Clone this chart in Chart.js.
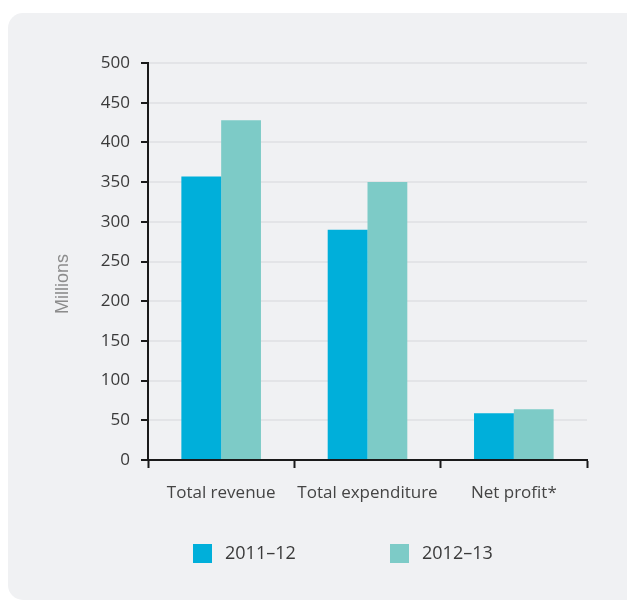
<!DOCTYPE html>
<html>
<head>
<meta charset="utf-8">
<script src="https://cdn.jsdelivr.net/npm/chart.js@4"></script>
<style>
  body { margin: 0; background: #fff; }
  #panel {
    position: absolute; left: 8px; top: 13px; width: 640px; height: 587px;
    background: #f0f1f3; border-radius: 15px;
  }
  #myChart { position: absolute; left: 0; top: 0; }
</style>
</head>
<body>
<div id="panel"></div>
<canvas id="myChart" width="627" height="602"></canvas>
<script>
const categories = ["Total revenue", "Total expenditure", "Net profit*"];
const fy1112 = [357, 290, 59];
const fy1213 = [428, 350, 64];
const yTicks = [0, 50, 100, 150, 200, 250, 300, 350, 400, 450, 500];
const seriesNames = ["2011\u201312", "2012\u201313"];
const colours = ["#00afda", "#7dcbc7"];

// y title and legend drawn by hand to sit where the original has them
const extras = {
  id: "extras",
  afterDraw(chart) {
    const ctx = chart.ctx;
    ctx.save();
    ctx.fillStyle = "#8c8c8c";
    ctx.font = "18px 'Liberation Sans'";
    ctx.translate(63, 284);
    ctx.rotate(-Math.PI / 2);
    ctx.textAlign = "center";
    ctx.textBaseline = "middle";
    ctx.fillText("Millions", 0, 0);
    ctx.restore();

    ctx.save();
    const boxX = [193, 390];
    chart.data.datasets.forEach((ds, i) => {
      ctx.fillStyle = ds.backgroundColor;
      ctx.fillRect(boxX[i], 544, 19, 19);
      ctx.fillStyle = "#3a3a3a";
      ctx.font = "18px 'Open Sans'";
      ctx.textBaseline = "middle";
      ctx.fillText(ds.label, boxX[i] + 32, 554);
    });
    ctx.restore();
  }
};

new Chart("myChart", {
  type: "bar",
  data: {
    labels: categories,
    datasets: [
      { label: seriesNames[0], data: fy1112, backgroundColor: colours[0] },
      { label: seriesNames[1], data: fy1213, backgroundColor: colours[1] }
    ]
  },
  options: {
    responsive: false,
    animation: false,
    barPercentage: 1,
    categoryPercentage: 0.544,
    layout: { padding: { top: 63, right: 40, bottom: 82, left: 0 } },
    plugins: { legend: { display: false }, tooltip: { enabled: false } },
    scales: {
      x: {
        afterFit: (s) => { s.height = 60; },
        border: { color: "#1a1a1a", width: 2 },
        grid: {
          offset: true, drawOnChartArea: false, tickLength: 8,
          tickColor: "#1a1a1a", tickWidth: 2
        },
        ticks: { color: "#444", font: { family: "Open Sans", size: 17 }, padding: 15 }
      },
      y: {
        min: 0, max: 500,
        afterFit: (s) => { s.width = 148; },
        afterBuildTicks: (s) => { s.ticks = yTicks.map(v => ({ value: v })); },
        border: { color: "#1a1a1a", width: 2 },
        grid: {
          color: "#e3e4e7", lineWidth: 2, tickLength: 7,
          tickColor: "#1a1a1a", tickWidth: 2
        },
        ticks: { color: "#3a3a3a", font: { family: "Open Sans", size: 17 }, padding: 11 }
      }
    }
  },
  plugins: [extras]
});
</script>
</body>
</html>
